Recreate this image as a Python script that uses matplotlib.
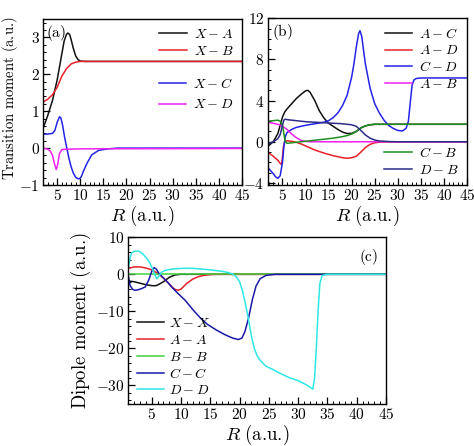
import matplotlib
matplotlib.use("Agg")
import matplotlib.pyplot as plt
from matplotlib.ticker import MultipleLocator, FuncFormatter

plt.rcParams['mathtext.fontset'] = 'cm'
plt.rcParams['font.family'] = ['DejaVu Serif']
plt.rcParams['axes.unicode_minus'] = True

# ---------------- Panel (a): transition moments from X ----------------
xa_XA = [2, 3, 4, 5, 6, 6.5, 7, 7.3, 7.7, 8, 8.5, 9, 9.5, 10, 11, 45]
ya_XA = [0.55, 0.9, 1.3, 1.85, 2.55, 2.9, 3.08, 3.12, 3.08, 2.95, 2.7, 2.5, 2.4, 2.36, 2.35, 2.35]
xa_XB = [2, 3, 4, 5, 6, 7, 8, 9, 10, 45]
ya_XB = [1.25, 1.33, 1.45, 1.65, 1.95, 2.15, 2.28, 2.33, 2.35, 2.35]
xa_XC = [2, 3, 4, 4.5, 5, 5.5, 5.8, 6.2, 6.6, 7, 7.5, 8, 8.5, 9, 9.5, 9.8, 10.2, 10.7,
         11.5, 12.5, 14, 16, 18, 45]
ya_XC = [0.38, 0.38, 0.4, 0.48, 0.7, 0.85, 0.82, 0.6, 0.3, 0.05, -0.25, -0.5, -0.68, -0.79,
         -0.83, -0.83, -0.78, -0.62, -0.4, -0.18, -0.06, -0.02, 0, 0]
xa_XD = [2, 3, 3.5, 4, 4.4, 4.8, 5.1, 5.5, 6, 7, 10, 45]
ya_XD = [0, -0.03, -0.08, -0.2, -0.42, -0.58, -0.45, -0.15, -0.04, -0.03, -0.02, -0.01]

# ---------------- Panel (b): transition moments between excited states ----------------
xb_AC = [1.8, 3, 4, 4.5, 5, 5.5, 6, 7, 8, 9, 10, 10.5, 11, 12, 13, 14, 15, 16, 17, 18, 19,
         20, 21, 22, 23, 24, 25, 45]
yb_AC = [-0.45, 0.0, 0.8, 1.6, 2.4, 2.9, 3.2, 3.7, 4.2, 4.6, 4.95, 5.0, 4.8, 4.0, 3.0, 2.3,
         1.8, 1.5, 1.2, 0.95, 0.8, 0.82, 1.0, 1.35, 1.55, 1.65, 1.7, 1.7]
xb_AD = [1.8, 3, 4, 4.5, 4.8, 5.0, 5.2, 5.5, 6, 7, 8, 9, 10, 12, 14, 16, 18, 19, 20, 21, 22,
         23, 24, 25, 26, 28, 45]
yb_AD = [-1.0, -1.4, -1.8, -2.1, -2.2, -1.5, -0.5, 0.05, 0.1, 0.05, -0.05, -0.2, -0.4, -0.8,
         -1.1, -1.35, -1.55, -1.6, -1.55, -1.4, -1.0, -0.55, -0.25, -0.1, -0.04, 0, 0]
xb_CD = [1.8, 3, 3.5, 4, 4.5, 5, 5.3, 5.6, 6, 7, 8, 10, 12, 14, 15, 16, 17, 18, 19, 20, 20.5,
         21, 21.5, 21.8, 22.2, 22.6, 23, 24, 25, 26, 27, 28, 29, 30, 31, 31.8, 32.3, 32.7,
         33.1, 33.5, 34, 35, 45]
yb_CD = [-2.5, -3.1, -3.4, -3.55, -3.3, -2.0, -0.5, 0.5, 0.9, 1.2, 1.4, 1.6, 1.75, 1.9, 2.05,
         2.35, 2.8, 3.5, 4.5, 6.3, 7.6, 9.2, 10.5, 10.8, 10.2, 8.8, 7.5, 5.2, 3.7, 2.8, 2.1,
         1.6, 1.3, 1.1, 1.05, 1.3, 2.0, 3.8, 5.5, 6.0, 6.15, 6.2, 6.2]
xb_AB = [1.8, 3, 4, 5, 6, 7, 8, 9, 10, 11, 45]
yb_AB = [1.9, 1.8, 1.7, 1.5, 1.2, 0.75, 0.4, 0.15, 0.04, 0, 0]
xb_CB = [1.8, 3, 4, 4.5, 5, 5.3, 5.6, 6, 7, 8, 10, 12, 14, 16, 18, 19, 20, 21, 22, 23, 24,
         25, 26, 45]
yb_CB = [2.0, 2.05, 2.1, 2.0, 1.6, 0.8, 0.0, -0.15, -0.1, -0.05, 0.05, 0.15, 0.25, 0.35, 0.5,
         0.6, 0.75, 1.0, 1.35, 1.55, 1.65, 1.7, 1.7, 1.7]
xb_DB = [1.8, 3, 4, 4.5, 5, 5.3, 5.6, 6, 8, 10, 12, 14, 16, 18, 20, 21, 22, 23, 24, 25, 26,
         28, 30, 45]
yb_DB = [-0.2, 0, 0.3, 0.7, 1.6, 2.1, 2.2, 2.15, 2.05, 1.95, 1.9, 1.85, 1.8, 1.75, 1.65, 1.5,
         1.1, 0.65, 0.35, 0.17, 0.08, 0.02, 0, 0]

# ---------------- Panel (c): permanent dipole moments ----------------
xc_XX = [1, 2, 3, 4, 5, 5.6, 6, 7, 8, 9, 10, 45]
yc_XX = [-1.8, -2.0, -2.4, -2.8, -3.05, -3.1, -2.9, -2.0, -0.8, -0.15, 0, 0]
xc_AA = [1, 2, 3, 4, 5, 6, 7, 8, 8.5, 9, 9.5, 10, 10.5, 11, 12, 13, 14, 15, 16, 45]
yc_AA = [1.6, 2.0, 2.0, 1.7, 1.2, 0.3, -1.0, -2.6, -3.5, -4.1, -4.3, -4.0, -3.2, -2.4, -1.3,
         -0.6, -0.25, -0.08, 0, 0]
xc_BB = [1, 45]
yc_BB = [0, 0]
xc_CC = [1, 1.3, 1.7, 2.1, 2.6, 3.2, 3.9, 4.5, 5, 5.4, 5.8, 6.2, 7, 7.8, 8.5, 9.5, 10.7, 12,
         13.2, 14.5, 16.1, 17.5, 18.8, 19.8, 20.4, 20.9, 21.5, 22.2, 22.8, 23.5, 24.5, 26, 45]
yc_CC = [-0.5, -3.0, -4.0, -4.3, -4.2, -3.9, -3.4, -1.5, 0.8, 1.8, 1.4, 0.3, -1.0, -2.3, -3.6,
         -5.2, -7.0, -9.5, -11.6, -13.5, -15.1, -16.3, -17.2, -17.6, -17.2, -15.5, -12.0, -6.7,
         -3.2, -1.2, -0.3, 0, 0]
xc_DD = [1, 1.3, 1.6, 2, 2.5, 3, 3.6, 4.2, 4.7, 5.1, 5.5, 5.85, 6.2, 6.6, 7.2, 8, 9, 10, 11,
         12, 13, 14, 15, 16, 17, 18, 18.8, 19.5, 20, 20.5, 21, 21.5, 22, 22.5, 23, 23.5, 24.5,
         25.7, 27, 28.5, 30, 31, 31.8, 32.5, 32.8, 33.1, 33.4, 33.7, 34.1, 35, 45]
yc_DD = [1.5, 4.5, 5.8, 6.2, 6.3, 6.1, 5.3, 4.2, 3.0, 1.6, 0.0, -1.2, -0.6, 0.5, 1.0, 1.3, 1.5,
         1.6, 1.65, 1.6, 1.5, 1.35, 1.2, 1.0, 0.8, 0.5, 0.1, -0.8, -2.0, -4.5, -8.0, -12.0,
         -16.5, -20.0, -22.0, -23.2, -24.8, -25.7, -26.8, -27.9, -28.7, -29.5, -30.2, -31.0,
         -28.0, -20.0, -10.0, -2.5, -0.3, 0, 0]

BLACK = '#111111'
RED = '#e8202a'
BLUE = '#2424e6'
MAGENTA = '#f020f0'
GREEN = '#1f8f1f'
NAVY = '#2c2c88'
GREEN_C = '#3fd23f'
BLUE_C = '#1a1aa8'
CYAN = '#2fe6e6'
LW = 1.1

AU = r'\text{(a.u.)}'
XLABEL = r'$R\ ' + AU + '$'


def mfmt(v, pos):
    if abs(v - round(v)) < 1e-9:
        return r'$%d$' % int(round(v))
    return r'$%g$' % v


def style_axes(ax, xmaj, xmin_, ymaj, ymin_):
    ax.xaxis.set_major_locator(MultipleLocator(xmaj))
    ax.xaxis.set_minor_locator(MultipleLocator(xmin_))
    ax.yaxis.set_major_locator(MultipleLocator(ymaj))
    ax.yaxis.set_minor_locator(MultipleLocator(ymin_))
    ax.xaxis.set_major_formatter(FuncFormatter(mfmt))
    ax.yaxis.set_major_formatter(FuncFormatter(mfmt))
    ax.tick_params(which='both', direction='in', top=False, right=False, labelsize=11)
    ax.tick_params(which='major', length=5, width=0.9, pad=2.5)
    ax.tick_params(which='minor', length=2.5, width=0.7)
    for s in ax.spines.values():
        s.set_linewidth(1.0)


fig = plt.figure(figsize=(4.74, 4.46), dpi=100)

# Panel (a)
axa = fig.add_axes([0.0914, 0.5852, 0.4191, 0.3722])
la1 = axa.plot(xa_XA, ya_XA, color=BLACK, lw=LW, label=r'$X-A$')[0]
la2 = axa.plot(xa_XB, ya_XB, color=RED, lw=LW, label=r'$X-B$')[0]
la3 = axa.plot(xa_XC, ya_XC, color=BLUE, lw=LW, label=r'$X-C$')[0]
la4 = axa.plot(xa_XD, ya_XD, color=MAGENTA, lw=LW, label=r'$X-D$')[0]
axa.set_xlim(2, 45)
axa.set_ylim(-1, 3.5)
style_axes(axa, 5, 1, 1, 0.2)
axa.set_ylabel(r'$\text{Transition moment (a.u.)}$', fontsize=10.5, labelpad=2)
axa.yaxis.set_label_coords(-0.115, 0.52)
axa.set_xlabel(XLABEL, fontsize=13.5, labelpad=0)
axa.text(0.015, 0.975, r'$\mathrm{(a)}$', transform=axa.transAxes, fontsize=11,
         ha='left', va='top')
lga1 = axa.legend(handles=[la1, la2], loc='upper right', bbox_to_anchor=(1.0, 1.0),
                  frameon=False, fontsize=10, handlelength=2.0, labelspacing=0.2,
                  borderaxespad=0.2, handletextpad=0.5)
axa.add_artist(lga1)
axa.legend(handles=[la3, la4], loc='upper right', bbox_to_anchor=(1.0, 0.7),
           frameon=False, fontsize=10, handlelength=2.0, labelspacing=0.45,
           borderaxespad=0.2, handletextpad=0.5)

# Panel (b)
axb = fig.add_axes([0.5648, 0.5852, 0.4204, 0.3738])
lb1 = axb.plot(xb_AC, yb_AC, color=BLACK, lw=LW, label=r'$A-C$')[0]
lb2 = axb.plot(xb_AD, yb_AD, color=RED, lw=LW, label=r'$A-D$')[0]
lb3 = axb.plot(xb_CD, yb_CD, color=BLUE, lw=LW, label=r'$C-D$')[0]
lb4 = axb.plot(xb_AB, yb_AB, color=MAGENTA, lw=LW, label=r'$A-B$')[0]
lb5 = axb.plot(xb_CB, yb_CB, color=GREEN, lw=LW, label=r'$C-B$')[0]
lb6 = axb.plot(xb_DB, yb_DB, color=NAVY, lw=LW, label=r'$D-B$')[0]
axb.set_xlim(1.8, 45)
axb.set_ylim(-4.2, 12)
style_axes(axb, 5, 1, 4, 1)
axb.set_xlabel(XLABEL, fontsize=13.5, labelpad=0)
axb.text(0.02, 0.975, r'$\mathrm{(b)}$', transform=axb.transAxes, fontsize=11,
         ha='left', va='top')
lgb1 = axb.legend(handles=[lb1, lb2, lb3, lb4], loc='upper right', bbox_to_anchor=(1.0, 1.0),
                  frameon=False, fontsize=10, handlelength=2.0, labelspacing=0.2,
                  borderaxespad=0.2, handletextpad=0.5)
axb.add_artist(lgb1)
axb.legend(handles=[lb5, lb6], loc='lower right', bbox_to_anchor=(1.0, 0.0),
           frameon=False, fontsize=10, handlelength=2.0, labelspacing=0.2,
           borderaxespad=0.2, handletextpad=0.5)

# Panel (c)
axc = fig.add_axes([0.2707, 0.0942, 0.5437, 0.3738])
axc.plot(xc_XX, yc_XX, color=BLACK, lw=LW, label=r'$X-X$')
axc.plot(xc_AA, yc_AA, color=RED, lw=LW, label=r'$A-A$')
axc.plot(xc_BB, yc_BB, color=GREEN_C, lw=LW, label=r'$B-B$')
axc.plot(xc_CC, yc_CC, color=BLUE_C, lw=LW, label=r'$C-C$')
axc.plot(xc_DD, yc_DD, color=CYAN, lw=LW, label=r'$D-D$')
axc.set_xlim(1, 45)
axc.set_ylim(-35, 10)
style_axes(axc, 5, 1, 10, 2)
axc.set_ylabel(r'$\text{Dipole moment (a.u.)}$', fontsize=13.5, labelpad=2)
axc.set_xlabel(XLABEL, fontsize=13.5, labelpad=0)
axc.text(0.97, 0.94, r'$\mathrm{(c)}$', transform=axc.transAxes, fontsize=11,
         ha='right', va='top')
axc.legend(loc='lower left', bbox_to_anchor=(0.0, -0.01), frameon=False, fontsize=10,
           handlelength=2.0, labelspacing=0.2, borderaxespad=0.2, handletextpad=0.3)

fig.savefig('out.png', dpi=100)
